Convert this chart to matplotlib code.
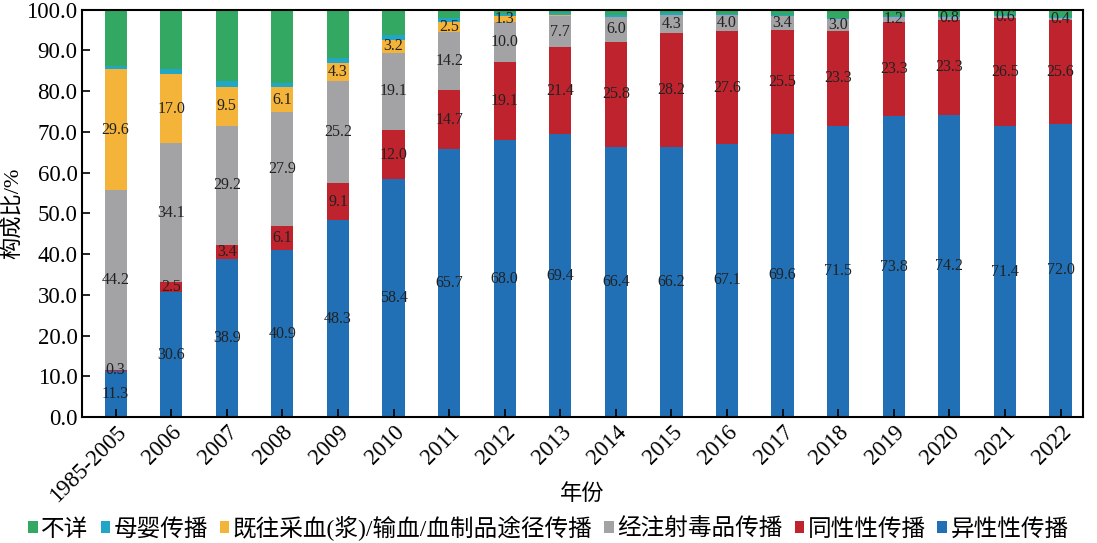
import matplotlib
matplotlib.use("Agg")
import matplotlib.pyplot as plt
import numpy as np

plt.rcParams['font.family'] = ['Liberation Serif', 'Noto Sans CJK SC', 'DejaVu Sans']

years = ['1985-2005', '2006', '2007', '2008', '2009', '2010', '2011', '2012', '2013',
         '2014', '2015', '2016', '2017', '2018', '2019', '2020', '2021', '2022']

hetero = [11.3, 30.6, 38.9, 40.9, 48.3, 58.4, 65.7, 68.0, 69.4, 66.4, 66.2, 67.1, 69.6, 71.5, 73.8, 74.2, 71.4, 72.0]
homo = [0.3, 2.5, 3.4, 6.1, 9.1, 12.0, 14.7, 19.1, 21.4, 25.8, 28.2, 27.6, 25.5, 23.3, 23.3, 23.3, 26.5, 25.6]
idu = [44.2, 34.1, 29.2, 27.9, 25.2, 19.1, 14.2, 10.0, 7.7, 6.0, 4.3, 4.0, 3.4, 3.0, 1.2, 0.8, 0.6, 0.4]
blood = [29.6, 17.0, 9.5, 6.1, 4.3, 3.2, 2.5, 1.3, 0.2, 0.1, 0, 0, 0, 0, 0, 0, 0, 0]
mtc = [0.7, 1.3, 1.5, 1.0, 1.3, 1.0, 0.8, 0.6, 0.5, 0.4, 0.4, 0.3, 0.3, 0.3, 0.2, 0.2, 0.2, 0.2]
unknown = [13.9, 14.5, 17.5, 18.0, 11.8, 6.3, 2.1, 1.0, 0.8, 1.3, 0.9, 1.0, 1.2, 1.9, 1.5, 1.5, 1.3, 1.8]

# bottom-up stacking order, label, color, show value labels
series = [
    (hetero, '异性性传播', '#2170b5', True),
    (homo, '同性性传播', '#bf242e', True),
    (idu, '经注射毒品传播', '#a3a3a6', True),
    (blood, '既往采血(浆)/输血/血制品途径传播', '#f4b43a', True),
    (mtc, '母婴传播', '#22a6c6', False),
    (unknown, '不详', '#33a862', False),
]

fig = plt.figure(figsize=(10.97, 5.43), dpi=100)
ax = fig.add_axes([0.075, 0.232, 0.912, 0.75])

x = np.arange(len(years))
bottom = np.zeros(len(years))
handles = []
for vals, name, color, show in series:
    v = np.array(vals)
    b = ax.bar(x, v, 0.4, bottom=bottom, color=color, label=name)
    handles.append(b)
    if show:
        for xi, yi, bi in zip(x, v, bottom):
            if yi > 0.05 and not (name.startswith('既往') and yi < 1):
                ax.text(xi, bi + yi / 2, f'{yi:.1f}', ha='center', va='center',
                        fontsize=11.5, color='#222222')
    bottom += v

ax.set_xlim(-0.6, len(years) - 0.6)
ax.set_ylim(0, 100)
ax.set_yticks(np.arange(0, 101, 10))
ax.set_yticklabels([f'{t:.1f}' for t in np.arange(0, 101, 10)], fontsize=16.5)
ax.set_xticks(x)
ax.set_xticklabels(years, rotation=45, ha='right', rotation_mode='anchor', fontsize=16.5)
ax.tick_params(direction='in', length=6, width=1.2)
for s in ax.spines.values():
    s.set_linewidth(1.5)
ax.set_ylabel('构成比/%', fontsize=16, labelpad=2)
ax.set_xlabel('年份', fontsize=16)
ax.xaxis.set_label_coords(0.5, -0.165)

fig.legend(handles[::-1], [h.get_label() for h in handles[::-1]], loc='lower center',
           ncol=6, frameon=False, fontsize=17, handlelength=0.4, handleheight=0.4,
           handletextpad=0.15, columnspacing=0.5, borderaxespad=0.0, borderpad=0.1,
           bbox_to_anchor=(0.5, 0.0))

fig.savefig('out.png', dpi=100)
